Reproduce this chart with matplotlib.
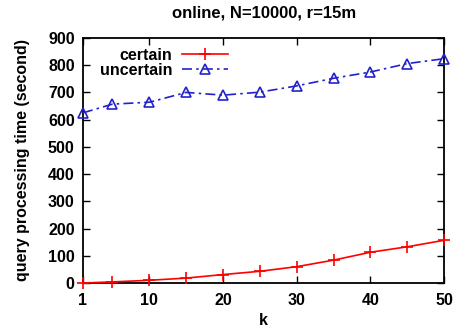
import matplotlib
matplotlib.use("Agg")
import matplotlib.pyplot as plt

plt.rcParams['font.family'] = ['Liberation Sans', 'DejaVu Sans']
plt.rcParams['font.weight'] = 'bold'

k = [1, 5, 10, 15, 20, 25, 30, 35, 40, 45, 50]
certain = [0, 4, 10, 18, 31, 43, 60, 84, 113, 133, 157]
uncertain = [625, 657, 664, 700, 690, 701, 724, 752, 775, 806, 824]
xticks = [1, 10, 20, 30, 40, 50]
yticks = list(range(0, 901, 100))

fig = plt.figure(figsize=(4.56, 3.32), dpi=100)
ax = fig.add_axes([0.182, 0.1476, 0.792, 0.738])

ax.plot(k, certain, color='#ff0000', lw=1.2, marker='+', ms=9, mew=1.2,
        label='certain', clip_on=False, zorder=3)
ax.plot(k, uncertain, color='#2222cc', lw=1.2, ls=(0, (6, 2.5, 1.5, 2.5)),
        marker='^', ms=7, mfc='none', mew=1.2, label='uncertain',
        clip_on=False, zorder=3)

ax.set_xlim(1, 50)
ax.set_ylim(0, 900)
ax.set_xticks(xticks)
ax.set_yticks(yticks)
ax.tick_params(direction='in', top=True, right=True, length=5, width=1,
               labelsize=11.5)
ax.tick_params(axis='x', pad=7)
ax.tick_params(axis='y', pad=6)
for s in ax.spines.values():
    s.set_linewidth(1.3)

ax.set_xlabel('k', fontsize=11.5, fontweight='bold', labelpad=4)
ax.set_ylabel('query processing time (second)', fontsize=11.5, fontweight='bold', labelpad=13)
ax.set_title('online, N=10000, r=15m', fontsize=12, fontweight='bold', pad=15)

leg = ax.legend(loc='upper left', markerfirst=False, frameon=False, fontsize=11.5,
                handlelength=2.9, handletextpad=0.6, labelspacing=0.0,
                borderaxespad=0.2, bbox_to_anchor=(0.02, 1.0))
for t in leg.get_texts():
    t.set_ha('right')
leg._legend_box.align = 'right'

fig.savefig('out.png', dpi=100)
